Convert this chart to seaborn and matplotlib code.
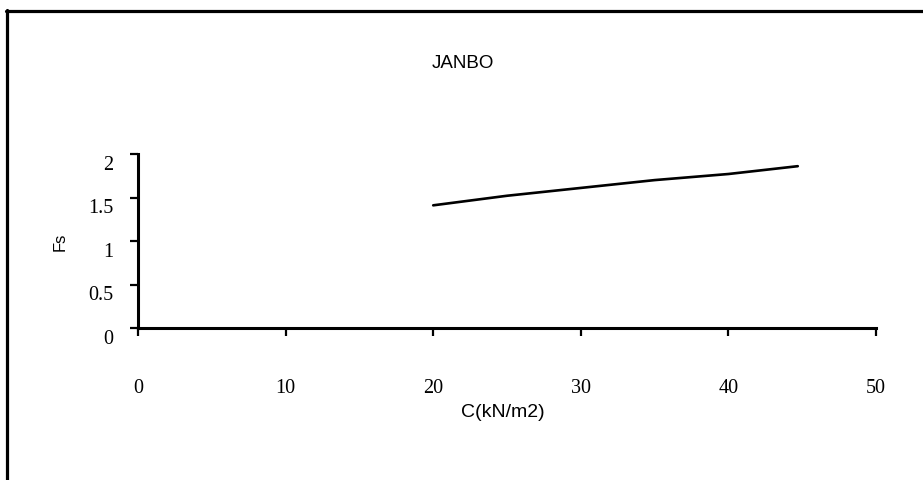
import matplotlib
matplotlib.use("Agg")
import matplotlib.pyplot as plt
import matplotlib.transforms as mtransforms
from matplotlib.lines import Line2D
import seaborn as sns
import pandas as pd

# ---- data ----
c_values = [20, 25, 30, 35, 40, 44.7]
fs_values = [1.41, 1.52, 1.61, 1.70, 1.77, 1.86]
x_ticks = [0, 10, 20, 30, 40, 50]
y_ticks = [0, 0.5, 1, 1.5, 2]
y_tick_labels = ["0", "0.5", "1", "1.5", "2"]
title_text = "JANBO"
x_label = "C(kN/m2)"
y_label = "Fs"

sns.set_style("ticks")
plt.rcParams["font.family"] = ["Liberation Sans", "DejaVu Sans"]

W, H = 923, 481
fig = plt.figure(figsize=(W / 100, H / 100), dpi=100)
fig.patch.set_facecolor("white")

ax_left, ax_right = 138 / W, 876 / W
ax_bottom, ax_top = (H - 329) / H, (H - 155) / H
ax = fig.add_axes([ax_left, ax_bottom, ax_right - ax_left, ax_top - ax_bottom])

df = pd.DataFrame({"C": c_values, "Fs": fs_values})
sns.lineplot(data=df, x="C", y="Fs", ax=ax, color="black", linewidth=1.9)

ax.set_xlim(0, 50)
ax.set_ylim(0, 2)
ax.set_xticks(x_ticks)
ax.set_xticklabels([str(t) for t in x_ticks])
ax.set_yticks(y_ticks)
ax.set_yticklabels(y_tick_labels)

for s in ["top", "right"]:
    ax.spines[s].set_visible(False)
for s in ["left", "bottom"]:
    ax.spines[s].set_linewidth(2.2)
    ax.spines[s].set_color("black")

ax.tick_params(axis="both", direction="out", length=6, width=1.6, color="black")
ax.tick_params(axis="x", pad=30)
ax.tick_params(axis="y", pad=12)
for lab in ax.get_xticklabels() + ax.get_yticklabels():
    lab.set_fontfamily(["Liberation Serif", "DejaVu Serif"])
    lab.set_fontsize(14.5)
    lab.set_color("black")
offset = mtransforms.ScaledTranslation(0, -8 / 100, fig.dpi_scale_trans)
for lab in ax.get_yticklabels():
    lab.set_transform(lab.get_transform() + offset)

ax.set_xlabel(x_label, fontsize=14, color="black")
ax.xaxis.set_label_coords(0.495, -0.43)
ax.set_ylabel(y_label, fontsize=12, color="black")
ax.yaxis.set_label_coords(-0.095, 0.5)

fig.text(463 / W, 1 - 63 / H, title_text, ha="center", va="center",
         fontsize=13.5, color="black")

# partial frame: top and left edges
fig.add_artist(Line2D([6 / W, 1.0], [1 - 11.5 / H, 1 - 11.5 / H],
                      transform=fig.transFigure, color="black", linewidth=2.3))
fig.add_artist(Line2D([6.5 / W, 6.5 / W], [0.0, 1 - 10.5 / H],
                      transform=fig.transFigure, color="black", linewidth=2.3))

fig.savefig("out.png", dpi=100, facecolor="white")
